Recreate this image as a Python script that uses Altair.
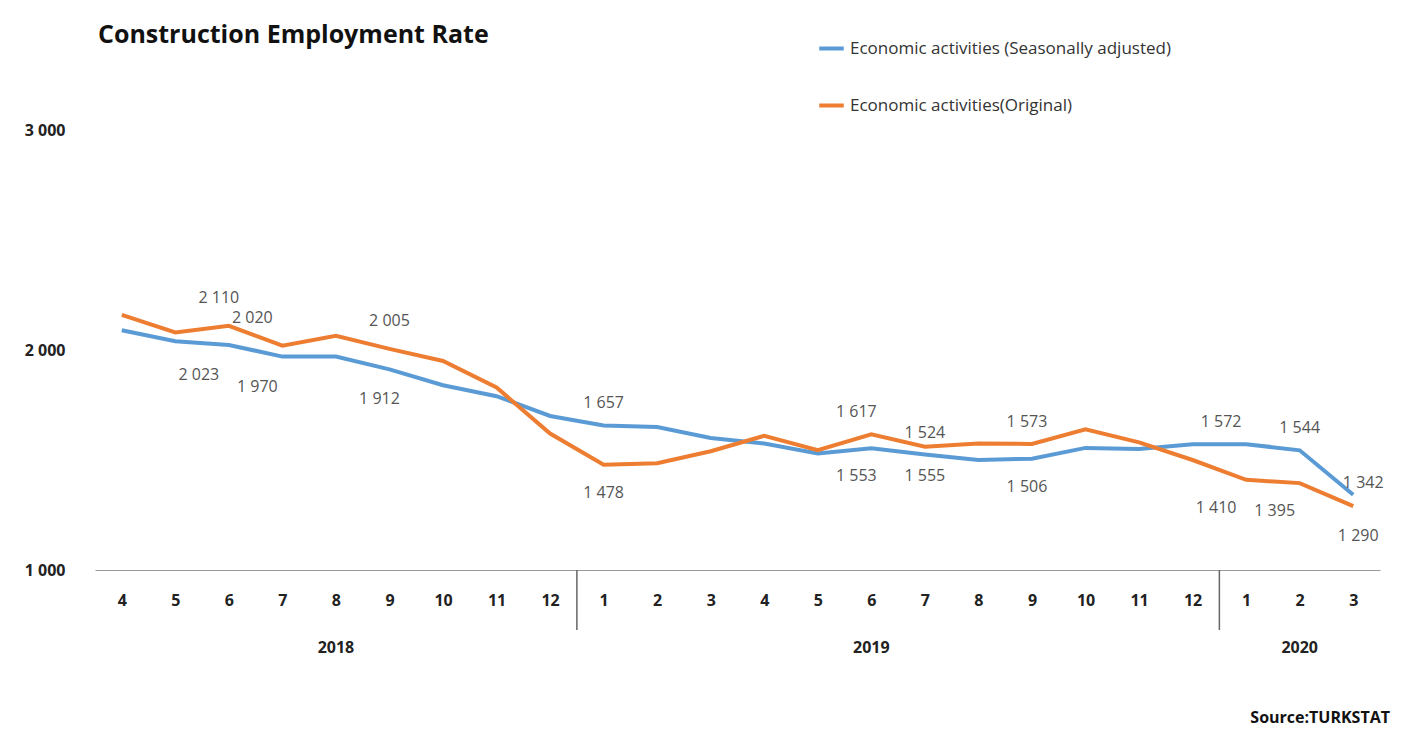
import altair as alt
import pandas as pd

months = [4, 5, 6, 7, 8, 9, 10, 11, 12, 1, 2, 3, 4, 5, 6, 7, 8, 9, 10, 11, 12, 1, 2, 3]
seasonal = [2090, 2040, 2023, 1970, 1970, 1912, 1840, 1790, 1700, 1657, 1650, 1600,
            1575, 1530, 1553, 1525, 1500, 1506, 1555, 1550, 1572, 1572, 1544, 1342]
original = [2160, 2080, 2110, 2020, 2065, 2005, 1950, 1830, 1620, 1478, 1485, 1540,
            1610, 1545, 1617, 1560, 1575, 1573, 1640, 1580, 1500, 1410, 1395, 1290]

# labelled points: index, value, pixel offsets
label_idx = [2, 3, 5, 2, 3, 5, 9, 9, 14, 14, 15, 15, 17, 17, 21, 21, 22, 22, 23, 23]
label_val = [2023, 1970, 1912, 2110, 2020, 2005, 1657, 1478, 1617, 1553, 1524, 1555,
             1573, 1506, 1572, 1410, 1544, 1395, 1342, 1290]
label_dy = [30, 30, 30, -28, -28, -28, -22, 28, -22, 28, -22, 28, -22, 28, -22, 28, -22, 28, -12, 30]
label_dx = [-30, -25, -10, -10, -30, 0, 0, 0, -15, -15, 0, 0, -5, -5, -25, -30, 0, -25, 10, 5]

years = ["2018", "2019", "2020"]
year_pos = [4, 14, 22]
dividers = [8.5, 20.5]

s1 = "Economic activities (Seasonally adjusted)"
s2 = "Economic activities(Original)"
idx = list(range(len(months)))
df = pd.DataFrame({"i": idx * 2, "v": seasonal + original,
                   "s": [s1] * len(idx) + [s2] * len(idx)})
lab = pd.DataFrame({"i": [i + dx / 53.5 for i, dx in zip(label_idx, label_dx)],
                    "v": [v - dy * 1000 / 220 for v, dy in zip(label_val, label_dy)],
                    "t": [f"{v // 1000} {v % 1000:03d}" for v in label_val]})
yr = pd.DataFrame({"i": year_pos, "t": years})
dv = pd.DataFrame({"i": dividers})

xs = alt.Scale(domain=[-0.5, 23.5])
ys = alt.Scale(domain=[1000, 3000])
mexpr = "[" + ",".join(str(m) for m in months) + "][datum.value]"

lines = alt.Chart(df).mark_line(strokeWidth=4).encode(
    x=alt.X("i:Q", scale=xs, axis=alt.Axis(values=idx, labelExpr=mexpr, title=None, grid=False,
            ticks=False, labelFontWeight="bold", labelFontSize=16, labelPadding=22,
            domainColor="#999", labelColor="#222", labelFont="Open Sans")),
    y=alt.Y("v:Q", scale=ys, axis=alt.Axis(values=[1000, 2000, 3000], labelExpr="replace(format(datum.value, ','), ',', ' ')",
            title=None, grid=False, domain=False, ticks=False, labelFontWeight="bold",
            labelFontSize=16, labelPadding=30, labelColor="#222", labelFont="Open Sans")),
    color=alt.Color("s:N", scale=alt.Scale(domain=[s1, s2], range=["#5B9BD5", "#ED7D31"]),
                    legend=alt.Legend(title=None, orient="none", legendX=722, legendY=-96,
                                      symbolType="stroke", symbolStrokeWidth=4, symbolSize=600,
                                      labelFontSize=17, labelColor="#333", rowPadding=34,
                                      labelFont="Open Sans", labelLimit=500)),
)

texts = alt.Chart(lab).mark_text(fontSize=16, color="#555", font="Open Sans").encode(
    x=alt.X("i:Q", scale=xs), y=alt.Y("v:Q", scale=ys), text="t:N")

yrs = alt.Chart(yr).mark_text(fontSize=16, fontWeight="bold", color="#222", font="Open Sans").encode(
    x=alt.X("i:Q", scale=xs), y=alt.value(518), text="t:N")

divs = alt.Chart(dv).mark_rule(color="#666", strokeWidth=1.5).encode(
    x=alt.X("i:Q", scale=xs), y=alt.value(440), y2=alt.value(500))

title = alt.Chart(pd.DataFrame({"t": ["Construction Employment Rate"]})).mark_text(
    fontSize=25, fontWeight="bold", align="left", color="#111", font="Open Sans").encode(
    x=alt.value(3), y=alt.value(-95), text="t:N")

source = alt.Chart(pd.DataFrame({"t": ["Source:TURKSTAT"]})).mark_text(
    fontSize=16, fontWeight="bold", align="right", color="#111", font="Open Sans").encode(
    x=alt.value(1295), y=alt.value(588), text="t:N")

chart = alt.layer(lines, texts, yrs, divs, title, source).properties(
    width=1285, height=440,
    autosize=alt.AutoSizeParams(type="none"),
    padding={"left": 87, "top": 122, "right": 20, "bottom": 160},
).configure_view(stroke=None)

chart.save("out.html", embed_options={"renderer": "svg", "actions": False})
